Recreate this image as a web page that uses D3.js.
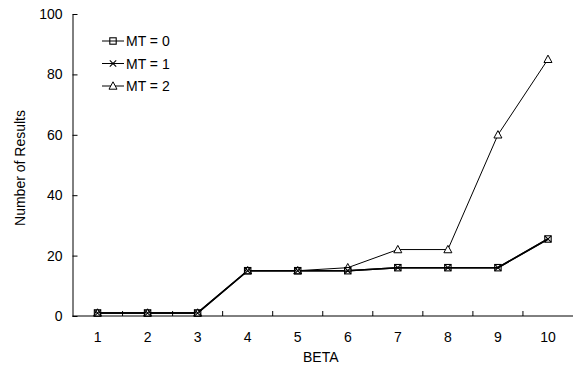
<!DOCTYPE html>
<html>
<head>
<meta charset="utf-8">
<script src="https://cdn.jsdelivr.net/npm/d3@7"></script>
<style>
  body { margin: 0; background: #fff; }
  text { font-family: "Liberation Sans", Arial, sans-serif; }
</style>
</head>
<body>
<script>
const betas = ["1", "2", "3", "4", "5", "6", "7", "8", "9", "10"];
const mt0 = [1, 1, 1, 15, 15, 15, 16, 16, 16, 25.5];
const mt1 = [1, 1, 1, 15, 15, 15, 16, 16, 16, 25.5];
const mt2 = [1, 1, 1, 15, 15, 16, 22, 22, 60, 85];
const yTicks = [0, 20, 40, 60, 80, 100];
const seriesNames = ["MT = 0", "MT = 1", "MT = 2"];

const svgWidth = 573;
const svgHeight = 367;
const margin = {top: 14, right: 0, bottom: 51, left: 72.5};
const chartWidth = svgWidth - margin.left - margin.right;
const chartHeight = svgHeight - margin.top - margin.bottom;

const series = [
    {name: seriesNames[0], values: mt0, marker: "square", width: 1.6},
    {name: seriesNames[1], values: mt1, marker: "cross", width: 1.6},
    {name: seriesNames[2], values: mt2, marker: "triangle", width: 1}
];

const svg = d3.select("body").append("svg")
    .attr("width", svgWidth)
    .attr("height", svgHeight);

const g = svg.append("g")
    .attr("transform", `translate(${margin.left}, ${margin.top})`);

const scaleX = d3.scaleBand().domain(betas).range([0, chartWidth]);
const scaleY = d3.scaleLinear().domain([0, 100]).range([chartHeight, 0]);
const cx = d => scaleX(d) + scaleX.bandwidth() / 2;

// x axis: ticks between categories, pointing inwards
const xAxis = g.append("g").attr("transform", `translate(0, ${chartHeight})`);
xAxis.append("line")
    .attr("x1", 0).attr("x2", chartWidth)
    .attr("stroke", "#000").attr("stroke-width", 1);
xAxis.selectAll(".tk")
    .data(betas.slice(1))
    .join("line")
    .attr("x1", d => scaleX(d)).attr("x2", d => scaleX(d))
    .attr("y1", 0).attr("y2", -5)
    .attr("stroke", "#000");
xAxis.selectAll(".lb")
    .data(betas)
    .join("text")
    .attr("x", d => cx(d))
    .attr("y", 26)
    .attr("text-anchor", "middle")
    .attr("font-size", 14)
    .text(d => d);

// y axis
g.append("g")
    .call(d3.axisLeft(scaleY).tickValues(yTicks).tickSize(-5).tickPadding(10).tickSizeOuter(0))
    .call(a => a.selectAll("text").attr("font-size", 14).attr("font-family", "Liberation Sans, Arial, sans-serif"))
    .call(a => a.select(".domain").attr("stroke", "#000"));

svg.append("text")
    .attr("x", margin.left + chartWidth / 2 - 2)
    .attr("y", 362)
    .attr("text-anchor", "middle")
    .attr("font-size", 14)
    .text("BETA");

svg.append("text")
    .attr("transform", `translate(25, ${margin.top + chartHeight / 2 + 3}) rotate(-90)`)
    .attr("text-anchor", "middle")
    .attr("font-size", 14)
    .text("Number of Results");

function drawMarker(sel, type) {
    const s = 3.2;
    if (type === "square") {
        sel.append("rect").attr("x", -s).attr("y", -s).attr("width", 2 * s).attr("height", 2 * s)
            .attr("fill", "none").attr("stroke", "#000").attr("stroke-width", 1.1);
    } else if (type === "cross") {
        sel.append("path").attr("d", `M${-s},${-s}L${s},${s}M${-s},${s}L${s},${-s}`)
            .attr("stroke", "#000").attr("stroke-width", 1.1);
    } else {
        sel.append("path").attr("d", `M0,${-s - 1}L${s + 0.8},${s}L${-s - 0.8},${s}Z`)
            .attr("fill", "#fff").attr("stroke", "#000").attr("stroke-width", 1);
    }
}

const line = d3.line().x((d, i) => cx(betas[i])).y(d => scaleY(d));

// draw triangle series first so the thicker lines lie on top
[series[2], series[0], series[1]].forEach(s => {
    g.append("path")
        .datum(s.values)
        .attr("d", line)
        .attr("fill", "none")
        .attr("stroke", "#000")
        .attr("stroke-width", s.width);
});
[series[2], series[0], series[1]].forEach(s => {
    g.selectAll(null)
        .data(s.values)
        .join("g")
        .attr("transform", (d, i) => `translate(${cx(betas[i])}, ${scaleY(d)})`)
        .each(function () { drawMarker(d3.select(this), s.marker); });
});

// legend
const legend = svg.append("g").attr("transform", "translate(102, 41)");
series.forEach((s, i) => {
    const row = legend.append("g").attr("transform", `translate(0, ${i * 22.5})`);
    row.append("line").attr("x1", 0).attr("x2", 22).attr("stroke", "#000").attr("stroke-width", 1);
    const m = row.append("g").attr("transform", "translate(11, 0)");
    drawMarker(m, s.marker);
    row.append("text").attr("x", 24).attr("y", 5).attr("font-size", 14).text(s.name);
});
</script>
</body>
</html>
